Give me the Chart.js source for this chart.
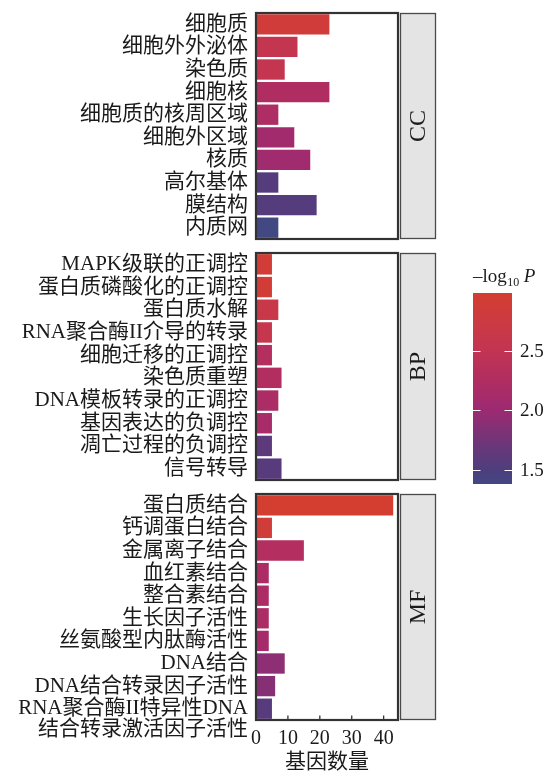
<!DOCTYPE html>
<html>
<head>
<meta charset="utf-8">
<script src="https://cdn.jsdelivr.net/npm/chart.js@4.4.1/dist/chart.umd.min.js"></script>
<style>
  html, body { margin: 0; padding: 0; background: #ffffff; }
  #wrap { position: relative; width: 552px; height: 773px; }
  .panel { position: absolute; left: 0; width: 552px; }
</style>
</head>
<body>
<div id="wrap">
  <div class="panel" style="top:0px;height:246px"><canvas id="cc"></canvas></div>
  <div class="panel" style="top:246px;height:240px"><canvas id="bp"></canvas></div>
  <div class="panel" style="top:486px;height:287px"><canvas id="mf"></canvas></div>
</div>
<script>
// GO enrichment: gene counts and -log10 P per term
const ccTerms = ['细胞质', '细胞外外泌体', '染色质', '细胞核', '细胞质的核周区域',
                 '细胞外区域', '核质', '高尔基体', '膜结构', '内质网'];
const ccCounts = [23, 13, 9, 23, 7, 12, 17, 7, 19, 7];
const ccLogP = [2.88, 2.55, 2.55, 2.25, 2.22, 2.08, 2.05, 1.55, 1.55, 1.38];

const bpTerms = ['MAPK级联的正调控', '蛋白质磷酸化的正调控', '蛋白质水解', 'RNA聚合酶II介导的转录',
                 '细胞迁移的正调控', '染色质重塑', 'DNA模板转录的正调控', '基因表达的负调控',
                 '凋亡过程的负调控', '信号转导'];
const bpCounts = [5, 5, 7, 5, 5, 8, 7, 5, 5, 8];
const bpLogP = [2.9, 2.9, 2.65, 2.6, 2.3, 2.28, 2.2, 2.15, 1.6, 1.57];

const mfTerms = ['蛋白质结合', '钙调蛋白结合', '金属离子结合', '血红素结合', '整合素结合',
                 '生长因子活性', '丝氨酸型内肽酶活性', 'DNA结合', 'DNA结合转录因子活性',
                 'RNA聚合酶II特异性DNA\n结合转录激活因子活性'];
const mfCounts = [43, 5, 15, 4, 4, 4, 4, 9, 6, 5];
const mfLogP = [2.99, 2.88, 2.3, 2.2, 2.2, 2.2, 2.12, 1.92, 1.88, 1.57];

const stripLabels = ['CC', 'BP', 'MF'];
const xTickValues = [0, 10, 20, 30, 40];
const colorbarTicks = [1.5, 2.0, 2.5];
const xTitle = '基因数量';

// ---- styling ----
const FONT = "'Liberation Serif', 'Noto Sans CJK SC', serif";
const X_MAX = 44.5;
const INK = '#1a1a1a';

// fill ramp for -log10 P
const rampStops = [
  [1.375, [64, 72, 130]],
  [1.5,   [78, 62, 126]],
  [1.75,  [113, 53, 120]],
  [2.0,   [156, 42, 114]],
  [2.25,  [176, 45, 98]],
  [2.5,   [194, 52, 82]],
  [2.75,  [204, 58, 66]],
  [3.0,   [212, 62, 48]]
];
function colorFor(v) {
  if (v <= rampStops[0][0]) return `rgb(${rampStops[0][1].join(',')})`;
  for (let i = 1; i < rampStops.length; i++) {
    const [v1, c1] = rampStops[i];
    const [v0, c0] = rampStops[i - 1];
    if (v <= v1) {
      const t = (v - v0) / (v1 - v0);
      const c = c0.map((a, k) => Math.round(a + (c1[k] - a) * t));
      return `rgb(${c.join(',')})`;
    }
  }
  return `rgb(${rampStops[rampStops.length - 1][1].join(',')})`;
}

const allLogP = ccLogP.concat(bpLogP, mfLogP);
const pMin = Math.min(...allLogP);
const pMax = Math.max(...allLogP);

// panel border, facet strip and inward x ticks
const panelFrame = {
  id: 'panelFrame',
  afterDatasetsDraw(chart, args, opts) {
    const { ctx, chartArea: a } = chart;
    ctx.save();
    const sx = a.right + 2.5, sw = 35;
    ctx.fillStyle = '#e4e4e4';
    ctx.fillRect(sx, a.top, sw, a.bottom - a.top);
    ctx.strokeStyle = '#4a4a4a';
    ctx.lineWidth = 1.3;
    ctx.strokeRect(sx, a.top + 0.5, sw, a.bottom - a.top - 1);

    ctx.save();
    ctx.translate(sx + sw / 2, (a.top + a.bottom) / 2);
    ctx.rotate(-Math.PI / 2);
    ctx.font = `24px ${FONT}`;
    ctx.fillStyle = INK;
    ctx.textAlign = 'center';
    ctx.textBaseline = 'middle';
    ctx.fillText(opts.label, 0, 1);
    ctx.restore();

    const xs = chart.scales.x;
    if (xs.options.display) {
      ctx.strokeStyle = '#333';
      ctx.lineWidth = 1.3;
      xs.ticks.forEach(t => {
        const px = xs.getPixelForValue(t.value);
        ctx.beginPath();
        ctx.moveTo(px, a.bottom);
        ctx.lineTo(px, a.bottom - 4.5);
        ctx.stroke();
      });
    }

    ctx.strokeStyle = '#333333';
    ctx.lineWidth = 2.2;
    ctx.strokeRect(a.left, a.top, a.right - a.left, a.bottom - a.top);
    ctx.restore();
  }
};

// colour key for -log10 P, drawn beside the middle panel
const colorKey = {
  id: 'colorKey',
  afterDraw(chart, args, opts) {
    const ctx = chart.ctx;
    const x0 = 473, w = 39, top = 293 - opts.offsetTop, bottom = 484 - opts.offsetTop;
    const yFor = v => bottom - (v - pMin) / (pMax - pMin) * (bottom - top);
    ctx.save();
    for (let y = top; y < bottom; y++) {
      const v = pMin + (bottom - (y + 0.5)) / (bottom - top) * (pMax - pMin);
      ctx.fillStyle = colorFor(v);
      ctx.fillRect(x0, y, w, 1);
    }
    ctx.strokeStyle = '#ffffff';
    ctx.lineWidth = 1;
    ctx.font = `19px ${FONT}`;
    ctx.fillStyle = INK;
    ctx.textBaseline = 'middle';
    ctx.textAlign = 'left';
    colorbarTicks.forEach(v => {
      const y = Math.round(yFor(v)) + 0.5;
      ctx.beginPath();
      ctx.moveTo(x0, y); ctx.lineTo(x0 + 7.5, y);
      ctx.moveTo(x0 + w - 7.5, y); ctx.lineTo(x0 + w, y);
      ctx.stroke();
      ctx.fillText(v.toFixed(1), 520, y + 1);
    });
    // title: –log10 P
    const by = 282 - opts.offsetTop;
    ctx.textBaseline = 'alphabetic';
    ctx.font = `19px ${FONT}`;
    ctx.fillText('\u2013log', 473, by);
    let x = 473 + ctx.measureText('\u2013log').width;
    ctx.font = `12px ${FONT}`;
    ctx.fillText('10', x + 0.5, by + 4);
    x += ctx.measureText('10').width + 5;
    ctx.font = `italic 19px ${FONT}`;
    ctx.fillText('P', x, by);
    ctx.restore();
  }
};

function makePanel(id, terms, counts, logP, strip, showX, padTop, padBottom, extraPlugins) {
  return new Chart(document.getElementById(id), {
    type: 'bar',
    data: {
      labels: terms,
      datasets: [{
        data: counts,
        backgroundColor: logP.map(colorFor),
        borderWidth: 0,
        barPercentage: 0.9,
        categoryPercentage: 1.0
      }]
    },
    options: {
      indexAxis: 'y',
      responsive: true,
      maintainAspectRatio: false,
      animation: false,
      layout: { padding: { top: padTop, bottom: padBottom, left: 0, right: 154 } },
      plugins: {
        legend: { display: false },
        tooltip: { enabled: false },
        panelFrame: { label: strip },
        colorKey: { offsetTop: 246 }
      },
      scales: {
        x: {
          type: 'linear',
          min: 0,
          max: X_MAX,
          display: showX,
          grid: { display: false, drawTicks: false },
          border: { display: false },
          afterBuildTicks(s) { s.ticks = xTickValues.map(v => ({ value: v })); },
          afterFit(s) { s.height = s.options.display ? 53 : 0; },
          ticks: {
            padding: 7,
            color: INK,
            maxRotation: 0,
            font: { family: FONT, size: 20 }
          },
          title: {
            display: true,
            text: xTitle,
            color: INK,
            padding: { top: 0, bottom: 0 },
            font: { family: FONT, size: 21, lineHeight: 1.0 }
          }
        },
        y: {
          type: 'category',
          grid: { display: false, drawTicks: false },
          border: { display: false },
          afterFit(s) { s.width = 256; s.paddingTop = 0; s.paddingBottom = 0; },
          ticks: {
            autoSkip: false,
            padding: 8,
            color: INK,
            font: { family: FONT, size: 21, lineHeight: 0.98 },
            callback(value) {
              const t = this.getLabelForValue(value);
              // wrapped term: first line sits on its bar, second line below
              return t.includes('\n') ? [''].concat(t.split('\n')) : t;
            }
          }
        }
      }
    },
    plugins: [panelFrame].concat(extraPlugins || [])
  });
}

makePanel('cc', ccTerms, ccCounts, ccLogP, stripLabels[0], false, 13, 7);
makePanel('bp', bpTerms, bpCounts, bpLogP, stripLabels[1], false, 7, 6, [colorKey]);
makePanel('mf', mfTerms, mfCounts, mfLogP, stripLabels[2], true, 8, 0);
</script>
</body>
</html>
